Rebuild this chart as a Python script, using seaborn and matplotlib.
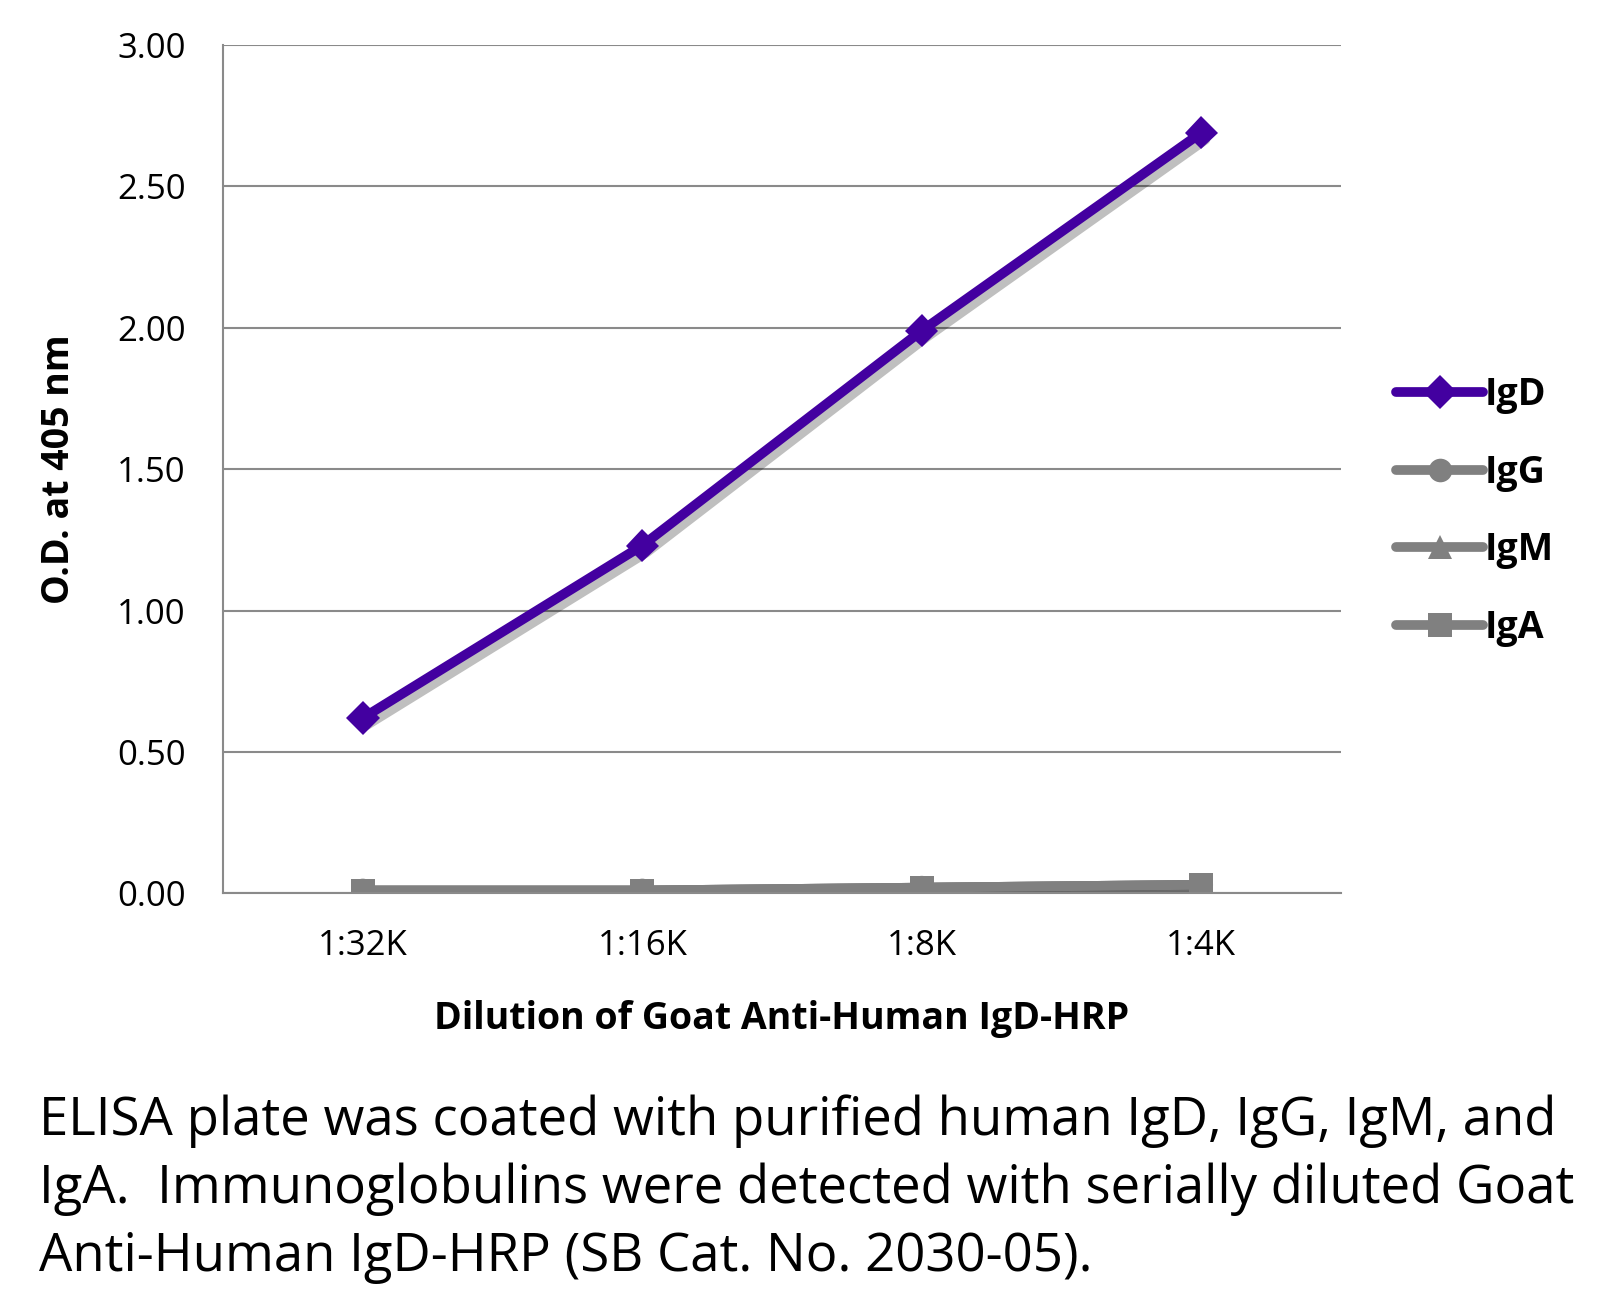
import matplotlib
matplotlib.use("Agg")
import matplotlib.pyplot as plt
import matplotlib.patheffects as pe
from matplotlib.lines import Line2D
import seaborn as sns
import pandas as pd
import numpy as np

dilutions = ["1:32K", "1:16K", "1:8K", "1:4K"]
igd = [0.62, 1.23, 1.99, 2.69]
igg = [0.01, 0.01, 0.02, 0.03]
igm = [0.01, 0.01, 0.02, 0.03]
iga = [0.01, 0.01, 0.02, 0.03]
series_names = ["IgD", "IgG", "IgM", "IgA"]
yticks = [0.0, 0.5, 1.0, 1.5, 2.0, 2.5, 3.0]

caption = ("ELISA plate was coated with purified human IgD, IgG, IgM, and\n"
           "IgA.  Immunoglobulins were detected with serially diluted Goat\n"
           "Anti-Human IgD-HRP (SB Cat. No. 2030-05).")

sns.set_theme(style="white")
plt.rcParams['font.family'] = ['Open Sans', 'DejaVu Sans']
plt.rcParams['text.color'] = 'black'
plt.rcParams['axes.labelcolor'] = 'black'
plt.rcParams['xtick.labelcolor'] = 'black'
plt.rcParams['ytick.labelcolor'] = 'black'

rows = []
for name, vals in zip(series_names, [igd, igg, igm, iga]):
    for i, (d, v) in enumerate(zip(dilutions, vals)):
        rows.append({"pos": i, "Dilution": d, "OD": v, "Series": name})
df = pd.DataFrame(rows)

purple = "#4300A0"
gray = "#808080"
palette = {"IgD": purple, "IgG": gray, "IgM": gray, "IgA": gray}
markers = {"IgD": "D", "IgG": "o", "IgM": "^", "IgA": "s"}

fig = plt.figure(figsize=(16.05, 13.06), dpi=100)
ax = fig.add_axes([0.139, 0.316, 0.6965, 0.6495])

sns.lineplot(data=df, x="pos", y="OD", hue="Series", style="Series",
             hue_order=series_names, style_order=series_names,
             palette=palette, markers=markers, dashes=False,
             linewidth=7, markersize=17, markeredgewidth=0,
             ax=ax, legend=False)

shadow = [pe.SimpleLineShadow(offset=(3, -5), shadow_color="black", alpha=0.25), pe.Normal()]
for ln in ax.lines:
    ln.set_path_effects(shadow)
    ln.set_solid_capstyle("round")

ax.set_xlim(-0.5, 3.5)
ax.set_ylim(0, 3.0)
ax.set_yticks(yticks)
ax.set_yticklabels([f"{v:.2f}" for v in yticks], fontsize=25)
ax.set_xticks(range(len(dilutions)))
ax.set_xticklabels(dilutions, fontsize=25)
ax.set_xticks(np.arange(-0.5, 3.6, 1.0), minor=True)
ax.tick_params(axis="x", which="major", length=0, pad=26)
ax.tick_params(axis="x", which="minor", length=9, width=1.3, color="#8a8a8a", direction="out")
ax.tick_params(axis="y", which="major", length=9, width=1.3, color="#8a8a8a", direction="out", pad=18)
ax.grid(axis="y", color="#8a8a8a", linewidth=1.5)
ax.set_axisbelow(True)
for s in ["top", "right"]:
    ax.spines[s].set_visible(False)
for s in ["left", "bottom"]:
    ax.spines[s].set_color("#8a8a8a")
    ax.spines[s].set_linewidth(1.5)

ax.set_ylabel("O.D. at 405 nm", fontsize=27, fontweight="bold", labelpad=28)
ax.set_xlabel("Dilution of Goat Anti-Human IgD-HRP", fontsize=27, fontweight="bold", labelpad=26)

handles = [Line2D([0], [0], color=palette[n], marker=markers[n], linewidth=7,
                  markersize=17, markeredgewidth=0, solid_capstyle="round") for n in series_names]
leg = fig.legend(handles, series_names, loc="upper left", bbox_to_anchor=(0.849, 0.738),
                 frameon=False, handlelength=2.3, handletextpad=0.05, labelspacing=1.06,
                 prop={"size": 27, "weight": "bold"})

fig.text(0.024, 0.162, caption, fontsize=38, va="top", ha="left", linespacing=1.36)

fig.savefig("out.png", dpi=100)
